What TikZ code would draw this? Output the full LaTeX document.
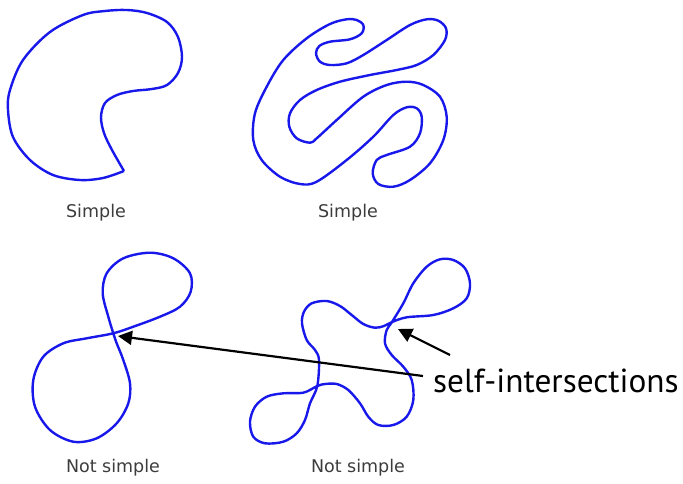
\documentclass[tikz,border=0pt]{standalone}
\usepackage{fontspec}
\setmainfont{DejaVu Sans}
\newfontfamily\calloutfont{PT Sans}
\usetikzlibrary{arrows.meta, positioning}
\definecolor{CurveBlue}{RGB}{24,24,235}
\definecolor{LabelGray}{RGB}{60,60,60}
\tikzset{
  curve/.style={CurveBlue, line width=2.4pt, line join=round},
  caption/.style={text=LabelGray, font=\fontsize{17.5}{20}\selectfont, anchor=base, inner sep=0pt},
  pointer/.style={black, line width=2.2pt, -{Triangle[length=14pt,width=14pt]}},
}

\begin{document}
\begin{tikzpicture}[x=1pt,y=-1pt]
  \useasboundingbox (0,0) rectangle (683,483);
  % Simple curve with a corner
  \draw[curve] plot[smooth, tension=0.55] coordinates {
    (124,171) (112,150) (104,133) (101,117) (105,103) (117,95) (133,91)
    (152,89) (167,85) (178,73) (182,57) (178,37) (167,22) (147,13) (127,10)
    (105,11) (83,15) (50,32) (23,60) (10,90) (8,110) (13,137) (30,160)
    (53,175) (80,180) (103,178) (124,171)};
  % Simple snake
  \draw[curve] plot[smooth cycle, tension=0.55] coordinates {
    (316.7,181.7) (346.7,160) (373.3,136.7) (393.3,115) (406.7,107.3)
    (416.7,108.3) (421.7,116.7) (420,133.3) (410,146.7) (386.7,155)
    (376.7,160) (372.7,173.3) (378.3,184) (393.3,186.7) (410,180)
    (430,163.3) (443.3,140) (446.7,116.7) (440,96.7) (423.3,85)
    (406.7,81.7) (386.7,85) (363.3,96.7) (336.7,120) (316.7,138.3)
    (310,142.7) (296.7,138.3) (289.3,126.7) (290,113.3) (300,100)
    (316.7,90) (340,81.7) (370,75) (396.7,70) (416.7,65) (433.3,55)
    (445,40) (446,28.3) (438.3,20.7) (426.7,19.3) (410,25) (386.7,40)
    (363.3,55) (346.7,63.3) (330,65) (320,61.7) (316,53.3) (319.3,46)
    (330,41.7) (350,39.3) (361.7,33.3) (363.3,25) (356.7,20) (346.7,19.3)
    (330,24) (306.7,38.3) (283.3,60) (266.7,86.7) (255,113.3) (253.3,140)
    (261.7,160) (280,176.7) (300,184)};
  % Figure eight
  \draw[curve] plot[smooth cycle, tension=0.55] coordinates {
    (113.3,333.3) (108.3,316.7) (102.7,293.3) (106.7,273.3) (123.3,258.3)
    (150,252.7) (173.3,258.3) (190,273.3) (190.7,291.7) (180,306.7)
    (160,316.7) (133.3,326.7) (113.3,333.3) (86.7,338.3) (63.3,343.3)
    (43.3,356.7) (33.3,380) (35,406.7) (50,430) (73.3,441.7) (96.7,438.3)
    (116.7,423.3) (128.3,403.3) (130,383.3) (123.3,360) (116.7,343.3)};
  % Four lobes
  \draw[curve] plot[smooth cycle, tension=0.55] coordinates {
    (392,322) (406.7,317.3) (433.3,315) (453.3,308.3) (466.7,298.3)
    (470,283.3) (465,268.3) (453.3,260) (440,259.3) (426.7,266.7)
    (413.3,283.3) (403.3,303.3) (392,322) (386.7,330) (385,343.3)
    (391.7,355) (403.3,366.7) (411.7,380) (413.3,400) (406.7,416.7)
    (393.3,425) (378.3,425) (368.3,416.7) (360,403.3) (348.3,390)
    (336.7,384) (325,384) (317.3,386) (303.3,392.7) (283.3,393.3)
    (266.7,396.7) (255,406.7) (250,421.7) (253.3,436.7) (265,443.3)
    (283.3,441.7) (296.7,433.3) (305,420) (310,403.3) (317.3,386)
    (319,360) (315,350) (306.7,340) (302,323.3) (304,311.7) (311.7,303.3)
    (326.7,301) (340,306) (351.7,315) (363.3,324) (375,327.7) (384,326)};
  % Labels
  \node[caption] (simpleA) at (96,217) {Simple};
  \node[caption] (simpleB) at (348,217) {Simple};
  \node[caption] (notA) at (113,472) {Not simple};
  \node[caption] (notB) at (358,472) {Not simple};
  % Callout
  \node[anchor=base west, inner sep=0pt, font=\calloutfont\fontsize{33.3}{38}\selectfont]
    (selfint) at (433,392) {self-intersections};
  \coordinate (tailA) at (423,376);
  \coordinate (tailB) at (450,355);
  \coordinate (eightx) at (118,336);
  \coordinate (lobex) at (398,329);
  \draw[pointer] (tailA) -- (eightx);
  \draw[pointer] (tailB) -- (lobex);
\end{tikzpicture}
\end{document}
